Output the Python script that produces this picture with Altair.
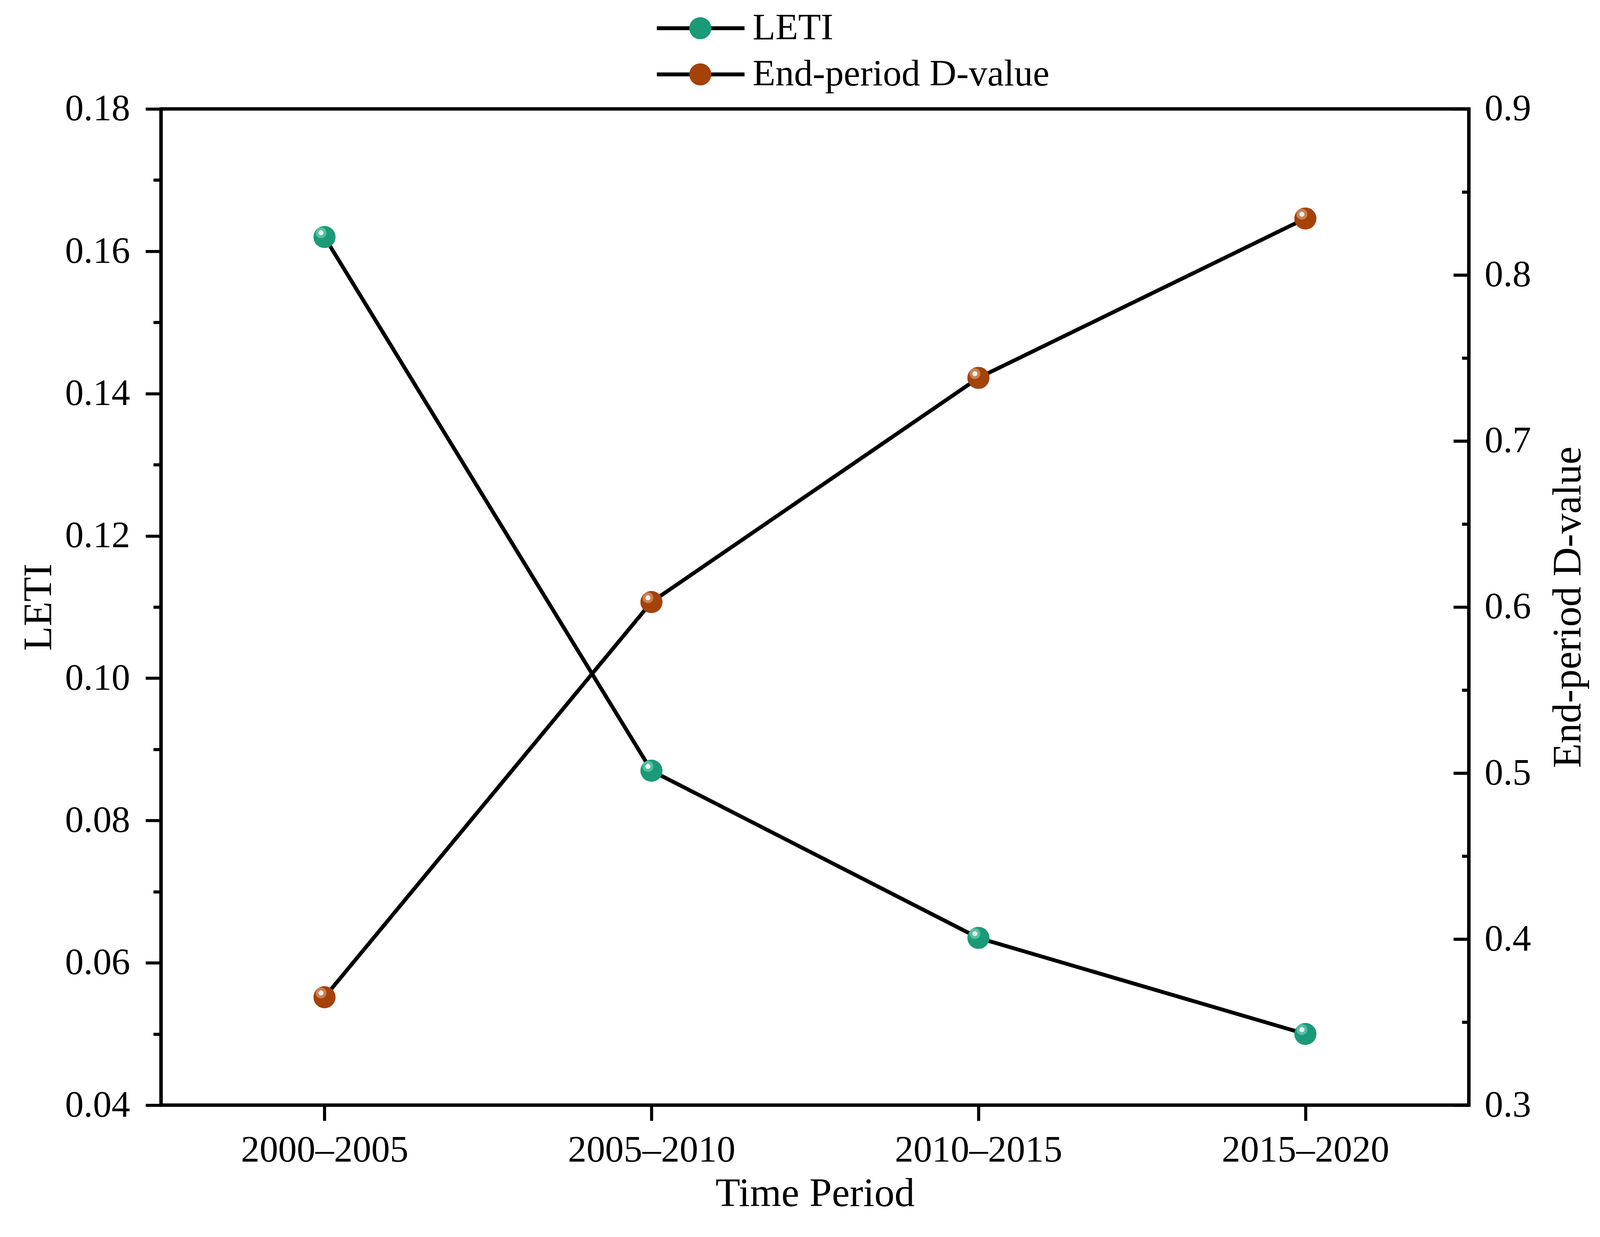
import altair as alt
import pandas as pd

# ---------------- data ----------------
periods = ["2000–2005", "2005–2010", "2010–2015", "2015–2020"]
leti_values = [0.162, 0.087, 0.0635, 0.050]
dvalue_values = [0.365, 0.603, 0.738, 0.834]
series_names = ["LETI", "End-period D-value"]
marker_colors = ["#1b9a78", "#a4420a"]
highlight_outer = ["#6fcfb0", "#d99a70"]
highlight_inner = ["#e3f8f1", "#fcf0e8"]

left_domain = [0.04, 0.18]
right_domain = [0.3, 0.9]
left_major_ticks = [0.04, 0.06, 0.08, 0.10, 0.12, 0.14, 0.16, 0.18]
left_minor_ticks = [0.05, 0.07, 0.09, 0.11, 0.13, 0.15, 0.17]
right_major_ticks = [0.3, 0.4, 0.5, 0.6, 0.7, 0.8, 0.9]
right_minor_ticks = [0.35, 0.45, 0.55, 0.65, 0.75, 0.85]

FONT = "Liberation Serif"

rows = []
for p, v in zip(periods, leti_values):
    rows.append({"period": p, "series": series_names[0], "value": v})
for p, v in zip(periods, dvalue_values):
    rows.append({"period": p, "series": series_names[1], "value": v})
df = pd.DataFrame(rows)
df["marker"] = df["series"]

LINE_W = 10
TICK_W = 8
MARKER_D = 57

# ---------------- encodings ----------------
x_enc = alt.X(
    "period:N",
    sort=periods,
    scale=alt.Scale(type="point", domain=periods, padding=0.5),
    axis=alt.Axis(
        title="Time Period",
        labelAngle=0,
        tickSize=40,
        tickWidth=TICK_W,
        labelPadding=29,
        titlePadding=14,
        labelFontSize=96,
        titleFontSize=104,
        labelLimit=2000,
    ),
)

line_color = alt.Color(
    "series:N",
    scale=alt.Scale(domain=series_names, range=["black", "black"]),
    legend=alt.Legend(
        title=None,
        orient="none",
        legendX=1273,
        legendY=-256,
        padding=0,
        symbolType="stroke",
        symbolSize=226 * 226,
        symbolStrokeWidth=LINE_W,
        labelFontSize=96,
        labelOffset=16,
        labelLimit=3000,
        clipHeight=96,
        rowPadding=23,
    ),
)

marker_fill = alt.Fill(
    "marker:N",
    sort=series_names,
    scale=alt.Scale(range=marker_colors),
    legend=alt.Legend(
        title=None,
        orient="none",
        legendX=1342,
        legendY=-256,
        padding=0,
        symbolType="circle",
        symbolSize=MARKER_D * MARKER_D,
        symbolStrokeWidth=0,
        symbolOpacity=1,
        labelFontSize=96,
        labelExpr="''",
        clipHeight=96,
        rowPadding=23,
    ),
)


def series_group(name, domain, axis, hl_out, hl_in):
    base = alt.Chart(df).transform_filter(alt.datum.series == name)
    yscale = alt.Scale(domain=domain, nice=False, zero=False)
    line = base.mark_line(strokeWidth=LINE_W).encode(
        x=x_enc, y=alt.Y("value:Q", scale=yscale, axis=axis), color=line_color
    )
    pts = base.mark_circle(size=MARKER_D * MARKER_D, opacity=1).encode(
        x=x_enc, y=alt.Y("value:Q", scale=yscale), fill=marker_fill
    )
    hl1 = base.mark_circle(size=28 * 28, opacity=0.7, color=hl_out, xOffset=-9, yOffset=-11).encode(
        x=x_enc, y=alt.Y("value:Q", scale=yscale)
    )
    hl2 = base.mark_circle(size=13 * 13, opacity=1, color=hl_in, xOffset=-9, yOffset=-11).encode(
        x=x_enc, y=alt.Y("value:Q", scale=yscale)
    )
    return alt.layer(line, pts, hl1, hl2)


def tick_group(name, domain, axis):
    base = alt.Chart(df).transform_filter(alt.datum.series == name)
    return base.mark_point(opacity=0).encode(
        x=x_enc, y=alt.Y("value:Q", scale=alt.Scale(domain=domain, nice=False, zero=False), axis=axis)
    )


left_axis = alt.Axis(
    orient="left",
    values=left_major_ticks,
    format=".2f",
    title="LETI",
    titleFontSize=104,
    titlePadding=62,
    labelFontSize=96,
    labelPadding=40,
    tickSize=40,
    tickWidth=TICK_W,
    labelFlush=False,
    labelOverlap=False,
)
left_minor_axis = alt.Axis(
    orient="left",
    values=left_minor_ticks,
    labels=False,
    title=None,
    tickSize=20,
    tickWidth=TICK_W,
)
right_axis = alt.Axis(
    orient="right",
    values=right_major_ticks,
    format=".1f",
    title="End-period D-value",
    titleFontSize=104,
    titleAngle=270,
    titleBaseline="top",
    titlePadding=45,
    labelFontSize=96,
    labelPadding=40,
    tickSize=40,
    tickWidth=TICK_W,
    offset=-40,
    labelFlush=False,
    labelOverlap=False,
)
right_minor_axis = alt.Axis(
    orient="right",
    values=right_minor_ticks,
    labels=False,
    title=None,
    tickSize=18,
    tickWidth=TICK_W,
    offset=-18,
)

left_group = series_group(series_names[0], left_domain, left_axis, highlight_outer[0], highlight_inner[0])
left_minor = tick_group(series_names[0], left_domain, left_minor_axis)
right_group = series_group(series_names[1], right_domain, right_axis, highlight_outer[1], highlight_inner[1])
right_minor = tick_group(series_names[1], right_domain, right_minor_axis)

chart = (
    alt.layer(left_group, left_minor, right_group, right_minor)
    .resolve_scale(y="independent")
    .properties(
        width=3371,
        height=2568,
        padding={"left": 407, "top": 262, "right": 330, "bottom": 300},
        autosize=alt.AutoSizeParams(type="none"),
        background="white",
    )
    .configure_view(stroke="black", strokeWidth=9)
    .configure_axis(
        labelFont=FONT,
        titleFont=FONT,
        labelColor="black",
        titleColor="black",
        tickColor="black",
        titleFontWeight="normal",
        grid=False,
        domain=False,
    )
    .configure_legend(labelFont=FONT, labelColor="black")
)

chart.save("out.html", embed_options={"renderer": "svg", "actions": False})
